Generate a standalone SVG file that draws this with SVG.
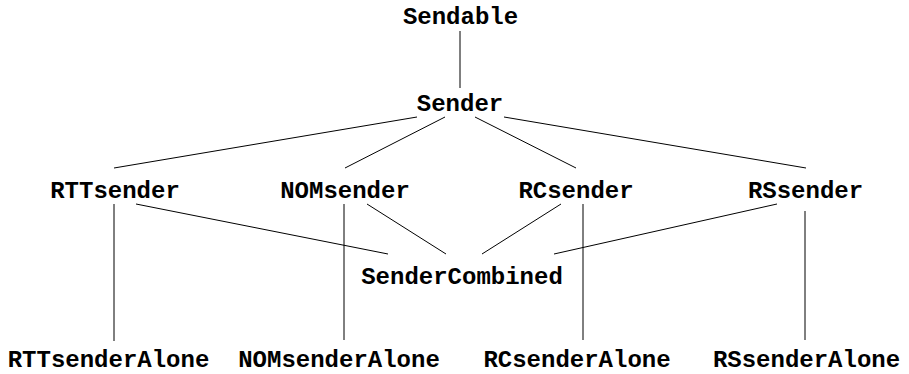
<svg xmlns="http://www.w3.org/2000/svg" width="909" height="374" viewBox="0 0 909 374">
<style>
.lbl{font-family:"Liberation Mono","Courier New",monospace;font-weight:bold;font-size:24px;fill:#000;text-anchor:middle}
.edge{stroke:#000;stroke-width:1;fill:none}
</style>
<rect width="909" height="374" fill="#fff"/>
<g id="connectors">
<line class="edge" x1="460" y1="31" x2="460" y2="88"/>
<line class="edge" x1="417" y1="117" x2="114" y2="168"/>
<line class="edge" x1="445" y1="117" x2="345" y2="168"/>
<line class="edge" x1="475" y1="117" x2="576" y2="168"/>
<line class="edge" x1="504" y1="117" x2="806" y2="168"/>
<line class="edge" x1="136" y1="204" x2="388" y2="254"/>
<line class="edge" x1="367" y1="204" x2="446" y2="254"/>
<line class="edge" x1="561" y1="204" x2="482" y2="254"/>
<line class="edge" x1="777" y1="204" x2="554" y2="254"/>
<line class="edge" x1="114" y1="204" x2="114" y2="341"/>
<line class="edge" x1="344" y1="204" x2="344" y2="340"/>
<line class="edge" x1="583" y1="204" x2="583" y2="340"/>
<line class="edge" x1="805" y1="211" x2="805" y2="340"/>
</g>
<g id="n-sendable"><text class="lbl" x="460.5" y="24">Sendable</text></g>
<g id="n-sender"><text class="lbl" x="460" y="111">Sender</text></g>
<g id="n-rttsender"><text class="lbl" x="115" y="198">RTTsender</text></g>
<g id="n-nomsender"><text class="lbl" x="345" y="198">NOMsender</text></g>
<g id="n-rcsender"><text class="lbl" x="576" y="198">RCsender</text></g>
<g id="n-rssender"><text class="lbl" x="805.5" y="198">RSsender</text></g>
<g id="n-sendercombined"><text class="lbl" x="462" y="284">SenderCombined</text></g>
<g id="n-rttsenderalone"><text class="lbl" x="108.5" y="367">RTTsenderAlone</text></g>
<g id="n-nomsenderalone"><text class="lbl" x="339" y="367">NOMsenderAlone</text></g>
<g id="n-rcsenderalone"><text class="lbl" x="577" y="367">RCsenderAlone</text></g>
<g id="n-rssenderalone"><text class="lbl" x="806.5" y="367">RSsenderAlone</text></g>
</svg>
